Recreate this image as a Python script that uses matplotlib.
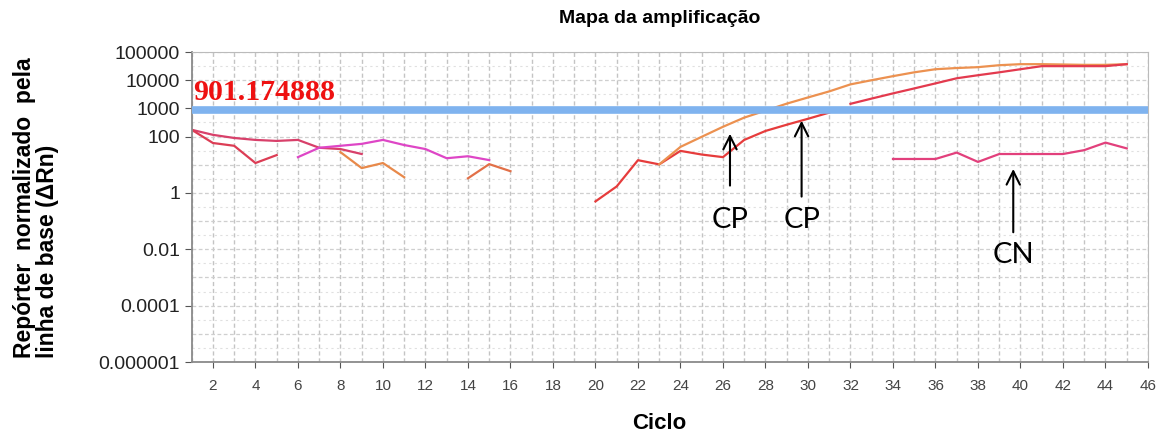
import matplotlib
matplotlib.use("Agg")
import matplotlib.pyplot as plt
from matplotlib.ticker import FixedLocator, FixedFormatter, MultipleLocator

# Dados (ciclo, ΔRn)
cyc_a = [1, 2, 3, 4, 5, 6, 7, 8, 9]
val_a = [174, 115, 89, 76, 70, 76, 40, 36, 24]

cyc_b = [1, 2, 3, 4, 5]
val_b = [174, 59, 47, 11.5, 22]

cyc_mag = [6, 7, 8, 9, 10, 11, 12, 13, 14, 15]
val_mag = [18.6, 40, 47, 55, 76, 50, 36, 17, 20, 14.6]

cyc_or1 = [8, 9, 10, 11]
val_or1 = [28, 7.6, 11.5, 3.6]

cyc_or2 = [14, 15, 16]
val_or2 = [3.3, 10.5, 5.9]

cyc_red = [20, 21, 22, 23, 24, 25, 26, 27, 28, 29, 30, 31]
val_red = [0.5, 1.7, 14.5, 10.3, 31, 23, 18.6, 76, 158, 263, 427, 708]

cyc_red2 = [32, 33, 34, 35, 36, 37, 38, 39, 40, 41, 42, 43, 44, 45]
val_red2 = [1450, 2230, 3400, 5100, 7700, 11700, 15000, 19000, 24500,
            31500, 31500, 31500, 31500, 37000]

cyc_or3 = [23, 24, 25, 26, 27, 28, 29, 30, 31, 32, 33, 34, 35, 36, 37, 38,
           39, 40, 41, 42, 43, 44, 45]
val_or3 = [10.3, 43, 98, 222, 470, 830, 1470, 2440, 4000, 7100, 10000, 13900,
           19000, 24500, 27000, 29000, 34000, 37000, 37000, 36000, 35000,
           35000, 37000]

cyc_cn = [34, 35, 36, 37, 38, 39, 40, 41, 42, 43, 44, 45]
val_cn = [16, 16, 16, 27, 12.6, 24, 24, 24, 24, 33, 61, 38]

threshold = 901.174888

y_ticks = [1e5, 1e4, 1e3, 1e2, 1, 1e-2, 1e-4, 1e-6]
y_labels = ["100000", "10000", "1000", "100", "1", "0.01", "0.0001", "0.000001"]
x_ticks = list(range(2, 47, 2))

# anotações: (texto, ciclo, ponta, cauda, posição do texto)
notes = [("CP", 26.33, 158, 1.45, 0.11),
         ("CP", 29.7, 460, 0.59, 0.11),
         ("CN", 39.66, 8.9, 0.032, 0.0063)]

plt.rcParams['font.family'] = ['Liberation Sans', 'DejaVu Sans']

fig = plt.figure(figsize=(11.61, 4.37), dpi=100)
ax = fig.add_axes([0.1651, 0.1716, 0.8237, 0.7094])

ax.set_yscale('log')
ax.set_xlim(1, 46)
ax.set_ylim(1e-6, 1e5)

# grade
for c in range(1, 47):
    ax.axvline(c, color='#c4c4c4', lw=1.0, ls=(0, (3, 2)), zorder=0)
for e in range(-6, 6):
    ax.axhline(10.0 ** e, color='#cfcfcf', lw=0.9, ls=(0, (3, 2)), zorder=0)
    ax.axhline(10.0 ** (e + 0.5), color='#e0e0e0', lw=0.8, ls=(0, (2, 3)), zorder=0)

lw = 1.6
ax.plot(cyc_a, val_a, color='#d8406a', lw=lw)
ax.plot(cyc_b, val_b, color='#dc3d55', lw=lw)
ax.plot(cyc_mag, val_mag, color='#de46c6', lw=lw)
ax.plot(cyc_or1, val_or1, color='#e8894a', lw=lw)
ax.plot(cyc_or2, val_or2, color='#e27048', lw=lw)
ax.plot(cyc_red, val_red, color='#e63c3c', lw=lw)
ax.plot(cyc_or3, val_or3, color='#ec9150', lw=lw)
ax.plot(cyc_red2, val_red2, color='#e33a4e', lw=lw)
ax.plot(cyc_cn, val_cn, color='#e2407c', lw=lw)

ax.axhline(threshold, color='#7fb3ef', lw=5.5, zorder=3)
ax.text(1.05, threshold * 1.35, "901.174888", color='#ee1111',
        family='Liberation Serif', fontweight='bold', fontsize=21.5,
        ha='left', va='bottom', zorder=4)

for txt, cx, tip, tail, ty in notes:
    ax.annotate("", xy=(cx, tip), xytext=(cx, tail),
                arrowprops=dict(arrowstyle='->', color='black', lw=1.5,
                                mutation_scale=24), zorder=5)
    ax.text(cx, ty, txt, family='Lato', fontsize=21, ha='center',
            va='center', color='black', zorder=5)

ax.yaxis.set_major_locator(FixedLocator(y_ticks))
ax.yaxis.set_major_formatter(FixedFormatter(y_labels))
ax.yaxis.set_minor_locator(FixedLocator([]))
ax.set_xticks(x_ticks)
ax.xaxis.set_minor_locator(MultipleLocator(1))
ax.tick_params(axis='y', which='major', labelsize=14, colors='#555555',
               labelcolor='#222222', length=5)
ax.tick_params(axis='x', which='major', labelsize=11, colors='#555555',
               labelcolor='#444444', length=4, pad=8)
ax.tick_params(axis='x', which='minor', length=0)

for s in ['left', 'bottom']:
    ax.spines[s].set_color('#8a8a8a')
    ax.spines[s].set_linewidth(1.3)
for s in ['top', 'right']:
    ax.spines[s].set_color('#bbbbbb')

fig.text(0.568, 0.958, "Mapa da amplificação", ha='center', va='center',
         fontsize=14, fontweight='bold')
fig.text(0.568, 0.032, "Ciclo", ha='center', va='center',
         fontsize=16, fontweight='bold')
fig.text(0.031, 0.525, "Repórter  normalizado  pela\nlinha de base (ΔRn)",
         rotation=90, ha='center', va='center', fontsize=16.5,
         fontweight='bold', linespacing=1.0, multialignment='left')

fig.savefig("out.png", dpi=100)
